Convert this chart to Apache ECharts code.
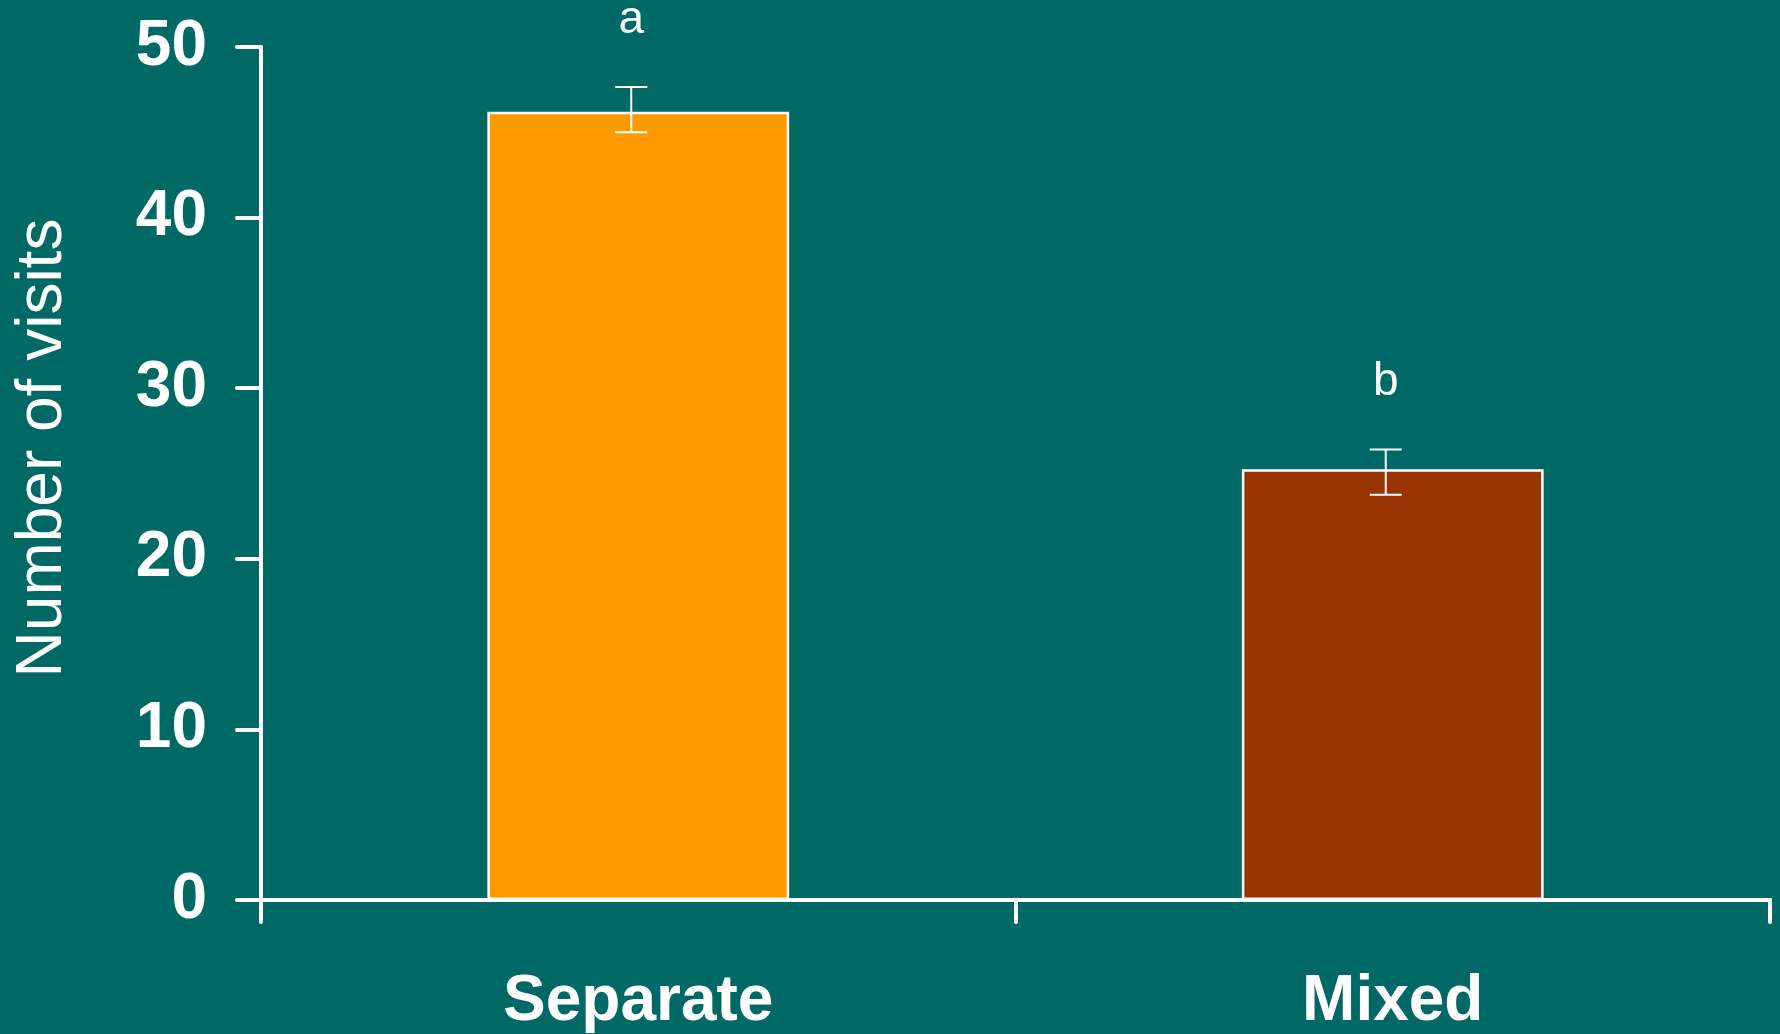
<!DOCTYPE html>
<html>
<head>
<meta charset="utf-8">
<script src="https://cdn.jsdelivr.net/npm/echarts@6/dist/echarts.min.js"></script>
<style>
  html, body { margin: 0; padding: 0; background: #006966; }
  #chart { width: 1780px; height: 1034px; }
</style>
</head>
<body>
<div id="chart"></div>
<script>
// chart data
const categories = ['Separate', 'Mixed'];
const means = [46.2, 25.25];
const errLow = [45.0, 23.75];
const errHigh = [47.65, 26.4];
const letters = ['a', 'b'];
const barColors = ['#FF9900', '#993300'];
const yTicks = { min: 0, max: 50, interval: 10 };

const FONT = '"Liberation Sans", Arial, sans-serif';

const chart = echarts.init(document.getElementById('chart'));

const option = {
    backgroundColor: '#006966',
    animation: false,
    grid: {
        left: 261,
        right: 10,
        top: 47,
        bottom: 133
    },
    graphic: [
        {
            type: 'text',
            x: 43,
            y: 448,
            rotation: Math.PI / 2,
            style: {
                text: 'Number of visits',
                fill: '#fff',
                fontSize: 64,
                fontFamily: FONT,
                align: 'center',
                verticalAlign: 'middle'
            }
        }
    ],
    xAxis: {
        type: 'category',
        data: categories,
        axisLine: { lineStyle: { color: '#fff', width: 4, cap: 'round' } },
        axisTick: { show: true, length: 22, lineStyle: { color: '#fff', width: 4, cap: 'round' } },
        axisLabel: {
            color: '#fff',
            fontSize: 64,
            fontWeight: 'bold',
            fontFamily: FONT,
            margin: 70
        }
    },
    yAxis: {
        type: 'value',
        min: yTicks.min,
        max: yTicks.max,
        interval: yTicks.interval,
        splitLine: { show: false },
        axisLine: { show: true, lineStyle: { color: '#fff', width: 4, cap: 'round' } },
        axisTick: { show: true, length: 24, lineStyle: { color: '#fff', width: 4, cap: 'round' } },
        axisLabel: {
            color: '#fff',
            fontSize: 64,
            fontWeight: 'bold',
            fontFamily: FONT,
            margin: 54
        }
    },
    series: [
        {
            type: 'bar',
            barWidth: '40%',
            data: means.map((v, i) => ({
                value: v,
                itemStyle: { color: barColors[i] }
            })),
            itemStyle: { borderColor: '#fff', borderWidth: 2.5 }
        },
        {
            type: 'custom',
            data: categories.map((c, i) => [i, errLow[i], errHigh[i]]),
            encode: { x: 0, y: [1, 2] },
            z: 5,
            renderItem: function (params, api) {
                const hi = api.coord([api.value(0), api.value(2)]);
                const lo = api.coord([api.value(0), api.value(1)]);
                const x = hi[0] - 7;
                const half = 16;
                const st = { stroke: '#fff', lineWidth: 2 };
                return {
                    type: 'group',
                    children: [
                        { type: 'line', shape: { x1: x, y1: hi[1], x2: x, y2: lo[1] }, style: st },
                        { type: 'line', shape: { x1: x - half, y1: hi[1], x2: x + half, y2: hi[1] }, style: st },
                        { type: 'line', shape: { x1: x - half, y1: lo[1], x2: x + half, y2: lo[1] }, style: st },
                        {
                            type: 'text',
                            x: x,
                            y: hi[1] - 67,
                            style: {
                                text: letters[params.dataIndex],
                                fill: '#fff',
                                fontSize: 46,
                                fontFamily: FONT,
                                align: 'center',
                                verticalAlign: 'middle'
                            }
                        }
                    ]
                };
            }
        }
    ]
};

chart.setOption(option);
</script>
</body>
</html>
